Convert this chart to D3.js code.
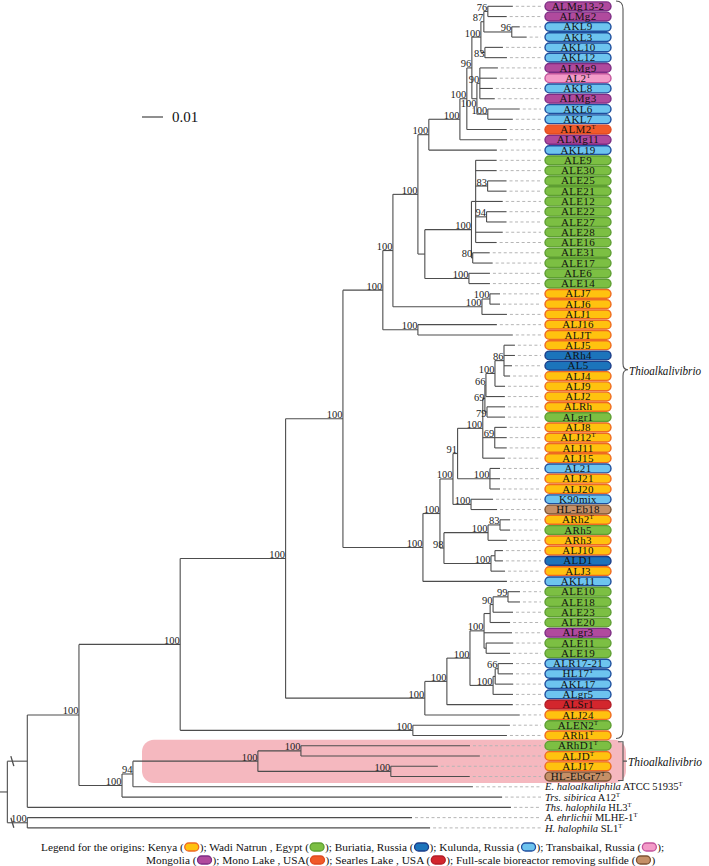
<!DOCTYPE html>
<html><head><meta charset="utf-8">
<script src="https://cdn.jsdelivr.net/npm/d3@7"></script>
<style>body{margin:0;background:#fff}</style>
</head><body>
<svg id="c" width="709" height="866"></svg>
<script>
// ---------------- DATA ----------------
// Tree in Newick form, assembled from clades; internal labels = bootstrap values,
// branch lengths in substitutions per site.
const cladeKulMong =
  "(((((((ALMg13-2:0.0119,ALMg2:0.0090)76:0.0019,(AKL9:0.0038,AKL3:0.0071)96:0.0133)87:0.0014,(AKL10:0.0086,AKL12:0.0105)83:0.0019)100:0.0043," +
  "((ALMg9:0.0086,AL2:0.0081,AKL8:0.0062,ALMg3:0.0071)90:0.0014,(AKL6:0.0152,AKL7:0.0119)100:0.0052)100:0.0024)96:0.0024," +
  "ALM2:0.0190)100:0.0033,ALMg11:0.0224)100:0.0148,AKL19:0.0324)100:0.0052";
const cladeEgypt1 =
  "(((ALE9:0.0100,ALE30:0.0100,(ALE25:0.0090,ALE21:0.0090)83:0.0057,ALE12:0.0129,(ALE22:0.0095,ALE27:0.0095)94:0.0052,ALE28:0.0129,ALE16:0.0100):0.0020," +
  "(ALE31:0.0081,ALE17:0.0095)80:0.0006)100:0.0222,(ALE6:0.0100,ALE14:0.0100)100:0.0210):0.0033";
const cladeKenya1 = "((ALJ7:0.0048,ALJ6:0.0048)100:0.0038,ALJ1:0.0119)100:0.0424";
const cladeKenya2 = "(ALJ16:0.0376,ALJT:0.0452)100:0.0167";
const cladeN483 =
  "((((ALJ5:0.0052,ARh4:0.0052,AL5:0.0038,ALJ4:0.0029)86:0.0043,ALJ9:0.0048)100:0.0043,ALJ2:0.0090)66:0.0005,(ALRh:0.0086,ALgr1:0.0086)79:0.0010)69:0.0010," +
  "(ALJ8:0.0057,ALJ12:0.0057,ALJ11:0.0057)69:0.0057,ALJ15:0.0105";
const cladeX =
  "(((" + cladeN483 + ")100:0.0120,(AL21:0.0048,ALJ21:0.0048,ALJ20:0.0048)100:0.0154)91:0.0022,(K90mix:0.0105,HL-Eb18:0.0124)100:0.0086)100:0.0062";
const cladeN98 =
  "(((ARh2:0.0048,ARh5:0.0048)83:0.0057,ARh3:0.0090)100:0.0210,((ALJ10:0.0038,ALD1:0.0038):0.0019,ALJ3:0.0067)100:0.0224)98:0.0019";
const cladeN423 = "((" + cladeX + "," + cladeN98 + ")100:0.0081,AKL11:0.0400)100:0.0381";
const cladeN383 = "(((" + cladeKulMong + "," + cladeEgypt1 + ")100:0.0119," + cladeKenya1 + ")100:0.0048," + cladeKenya2 + ")100:0.0190";
const cladeE = "(" + cladeN383 + "," + cladeN423 + ")100:0.0273";
const cladeN425 =
  "(((((((ALE10:0.0057,ALE18:0.0057)99:0.0071,ALE23:0.0095)90:0.0014,ALE20:0.0095):0.0029,ALgr3:0.0133,(ALE11:0.0129,ALE19:0.0114):0.0010)100:0.0067," +
  "(((ALR17-21:0.0071,HL17:0.0071)66:0.0014,AKL17:0.0086):0.0010,ALgr5:0.0095)100:0.0110)100:0.0110,ALSr1:0.0314)100:0.0105,ALJ24:0.0452)100:0.0663";
const cladeC = "((" + cladeE + "," + cladeN425 + ")100:0.0502,(ALEN2:0.0462,ARh1:0.0448)100:0.1108)100:0.0482";
const cladeF = "((((ARhD1:0.0805,ALJD:0.0852)100:0.0205,(ALJ17:0.0224,HL-EbGr7:0.0376)100:0.0633)100:0.0595,Ehal:0.1619)94:0.0052,Trs:0.1810)100:0.0205";
const newick = "(((" + cladeC + "," + cladeF + ")100:0.0246,Ths:0.2303):0.0095,(Aehr:0.1832,Hhal:0.1918)100:0.0095):0.0035;";

// Origin of each coloured strain, in tree order (top to bottom)
const pillOrigins = ["MG","MG","KU","KU","KU","KU","MG","T","KU","MG","KU","KU","ML","MG","KU",
  "W","W","W","W","W","W","W","W","W","W","W","W","W",
  "K","K","K","K","K","K","B","B","K","K","K","K","W","K","K","K","K","KU","K","K","KU","BR",
  "K","W","K","K","B","K","KU","W","W","W","W","MG","W","W","KU","KU","KU","KU","SL","K","W","K",
  "W","K","K","BR"];
const typeStrains = ["AL2","ALM2","ALJ12","ARh2","HL17","ALEN2","ARh1","ARhD1","ALJD","HL-EbGr7"];
const outgroupNames = {
  Ehal:["E. haloalkaliphila"," ATCC 51935"],
  Trs:["Trs. sibirica"," A12"],
  Ths:["Ths. halophila"," HL3"],
  Aehr:["A. ehrlichii"," MLHE-1"],
  Hhal:["H. halophila"," SL1"]
};
const originColors = {
  K:["#FFC20F","#EE6A22"], W:["#7CBF43","#5E9E32"], B:["#1C74BB","#1B3E8A"],
  KU:["#6DC4EF","#1F4F9E"], T:["#F39BC8","#C3559C"], MG:["#B04A9D","#7D2D84"],
  ML:["#F15A29","#DF4A1F"], SL:["#D3262D","#B21D27"], BR:["#C59067","#7E5434"]
};
const legendLine1 = [["Legend for the origins: Kenya (","K"],["); Wadi Natrun , Egypt (","W"],["); Buriatia, Russia (","B"],["); Kulunda, Russia (","KU"],["); Transbaikal, Russia (","T"],[");",null]];
const legendLine2 = [["Mongolia (","MG"],["); Mono Lake , USA(","ML"],["); Searles Lake , USA (","SL"],["); Full-scale bioreactor removing sulfide (","BR"],[")",null]];
const genusLabel = "Thioalkalivibrio";
const scaleBarValue = 0.01;
// bootstrap labels moved down to avoid collisions: [first leaf, last leaf, dy]
const labelNudges = [["ALMg9","AKL7",9],["AKL10","AKL12",5],["ALJ5","ALgr1",3],["ALRh","ALgr1",6]];

// ---------------- PARSE ----------------
function parseNewick(s){
  let i=0;
  function node(){
    const n={children:[]};
    if(s[i]==='('){ i++; n.children.push(node()); while(s[i]===','){ i++; n.children.push(node()); } i++; }
    let name=''; while(i<s.length && !',():;'.includes(s[i])) name+=s[i++];
    n.name=name;
    let l=''; if(s[i]===':'){ i++; while(i<s.length && !',();'.includes(s[i])) l+=s[i++]; }
    n.len = l? +l : 0;
    return n;
  }
  return node();
}
const root = d3.hierarchy(parseNewick(newick), d=>d.children.length? d.children : null);
root.eachBefore(n=>{ n.dist = (n.parent? n.parent.dist : 0) + n.data.len; });
const leaves = root.leaves();

const x = d3.scaleLinear().domain([0, scaleBarValue]).range([0, 21]);
const y = d3.scaleLinear().domain([0, leaves.length-1]).range([6.3, 827.9]);
leaves.forEach((l,i)=>{ l.yy = y(i); });
root.eachAfter(n=>{ if(n.children){ n.yy = (n.children[0].yy + n.children[n.children.length-1].yy)/2; } });

const svg = d3.select("#c");
const serif = "'Liberation Serif','Times New Roman',serif";
const LEADER_END = 541, PILL_X = 545, PILL_W = 66, PILL_H = 8.8;

// highlight of the second Thioalkalivibrio group
const hl = leaves.filter(l=>["ARhD1","HL-EbGr7"].includes(l.data.name));
svg.append("rect").attr("x", 142).attr("y", hl[0].yy-6).attr("width", 484).attr("height", hl[1].yy-hl[0].yy+12.5)
  .attr("rx", 12).attr("fill", "#F5B8BF");

// ---------------- TREE ----------------
const g = svg.append("g").attr("stroke","#4d4d4d").attr("stroke-width",1.1).attr("fill","none");
root.descendants().forEach(n=>{
  const x0 = x(n.parent? n.parent.dist : 0), x1 = x(n.dist);
  g.append("line").attr("x1",x0).attr("x2",x1).attr("y1",n.yy).attr("y2",n.yy);
  if(n.children){
    g.append("line").attr("x1",x1).attr("x2",x1)
      .attr("y1",n.children[0].yy).attr("y2",n.children[n.children.length-1].yy);
  }
});
// leader dashes
const gd = svg.append("g").attr("stroke","#b5b5b5").attr("stroke-width",1).attr("stroke-dasharray","3,2.5");
leaves.forEach(l=>{
  if(x(l.dist)+3 < LEADER_END)
    gd.append("line").attr("x1",x(l.dist)+3).attr("x2",LEADER_END).attr("y1",l.yy).attr("y2",l.yy);
});
// break marks on the two root branches
root.children.forEach(c=>{
  const bx = x(root.dist)+5;
  g.append("line").attr("x1",bx-1.5).attr("x2",bx+1.5).attr("y1",c.yy-5).attr("y2",c.yy+5).attr("stroke-width",1.3);
});
// bootstrap values
root.descendants().filter(n=>n.children && n.data.name).forEach(n=>{
  const lv = n.leaves(), f = lv[0].data.name, l = lv[lv.length-1].data.name;
  const nudge = labelNudges.find(d=>d[0]===f && d[1]===l);
  svg.append("text").attr("x", x(n.dist)-0.5).attr("y", n.yy-0.5 + (nudge? nudge[2] : 0)).attr("text-anchor","end")
    .attr("font-family",serif).attr("font-size",10.5).attr("fill","#222").text(n.data.name);
});

// ---------------- PILLS ----------------
leaves.forEach((l,i)=>{
  const nm = l.data.name;
  if(i < pillOrigins.length){
    const c = originColors[pillOrigins[i]];
    svg.append("rect").attr("x",PILL_X).attr("y",l.yy-PILL_H/2).attr("width",PILL_W).attr("height",PILL_H)
      .attr("rx",PILL_H/2).attr("fill",c[0]).attr("stroke",c[1]).attr("stroke-width",1.4);
    const t = svg.append("text").attr("x",PILL_X+PILL_W/2).attr("y",l.yy+3.6).attr("text-anchor","middle")
      .attr("font-family",serif).attr("font-size",11).attr("letter-spacing",0.3).attr("fill","#111").text(nm);
    if(typeStrains.includes(nm)) t.append("tspan").attr("font-size",6.5).attr("dy",-4).text("T");
  } else {
    const o = outgroupNames[nm];
    const t = svg.append("text").attr("x",PILL_X).attr("y",l.yy+3.6)
      .attr("font-family",serif).attr("font-size",10.5).attr("fill","#111");
    t.append("tspan").attr("font-style","italic").text(o[0]);
    t.append("tspan").text(o[1]);
    t.append("tspan").attr("font-size",6.5).attr("dy",-4).text("T");
  }
});

// ---------------- BRACES ----------------
const bTop = 1, bBot = leaves[71].yy+3, bMid = (bTop+bBot)/2;
const bx = 616, bw = 7;
svg.append("path").attr("fill","none").attr("stroke","#555").attr("stroke-width",1.1)
  .attr("d",`M${bx},${bTop} Q${bx+bw},${bTop} ${bx+bw},${bTop+8} L${bx+bw},${bMid-6} Q${bx+bw},${bMid} ${bx+bw+5},${bMid} Q${bx+bw},${bMid} ${bx+bw},${bMid+6} L${bx+bw},${bBot-8} Q${bx+bw},${bBot} ${bx},${bBot}`);
svg.append("text").attr("x",629).attr("y",bMid+5).attr("font-family",serif).attr("font-style","italic")
  .attr("font-size",12.5).attr("textLength",72).attr("lengthAdjust","spacingAndGlyphs").attr("fill","#111").text(genusLabel);
const b2Top = leaves[72].yy-4, b2Bot = leaves[75].yy+4, b2Mid=(b2Top+b2Bot)/2;
svg.append("path").attr("fill","none").attr("stroke","#555").attr("stroke-width",1.1)
  .attr("d",`M${bx+2},${b2Top} L${bx+7},${b2Top} L${bx+7},${b2Bot} L${bx+2},${b2Bot} M${bx+7},${b2Mid} L${bx+11},${b2Mid}`);
svg.append("text").attr("x",628).attr("y",b2Mid+4.5).attr("font-family",serif).attr("font-style","italic")
  .attr("font-size",12.5).attr("textLength",74).attr("lengthAdjust","spacingAndGlyphs").attr("fill","#111").text(genusLabel);

// ---------------- SCALE BAR ----------------
svg.append("line").attr("x1",142).attr("x2",142 + x(scaleBarValue)).attr("y1",117).attr("y2",117)
  .attr("stroke","#333").attr("stroke-width",1.1);
svg.append("text").attr("x",172).attr("y",122).attr("font-family",serif).attr("font-size",15).attr("fill","#111").text(String(scaleBarValue));

// ---------------- LEGEND ----------------
function legendLine(items, x0, yb){
  let cx = x0;
  items.forEach(([txt,code])=>{
    const t = svg.append("text").attr("x",cx).attr("y",yb).attr("font-family",serif).attr("font-size",11.3).attr("fill","#111").text(txt);
    cx += t.node().getComputedTextLength();
    if(code){
      const c = originColors[code];
      svg.append("rect").attr("x",cx+1).attr("y",yb-8).attr("width",14).attr("height",8).attr("rx",4)
        .attr("fill",c[0]).attr("stroke",c[1]).attr("stroke-width",1.3);
      cx += 16;
    }
  });
}
legendLine(legendLine1, 41, 851);
legendLine(legendLine2, 146, 864);
</script>
</body></html>
